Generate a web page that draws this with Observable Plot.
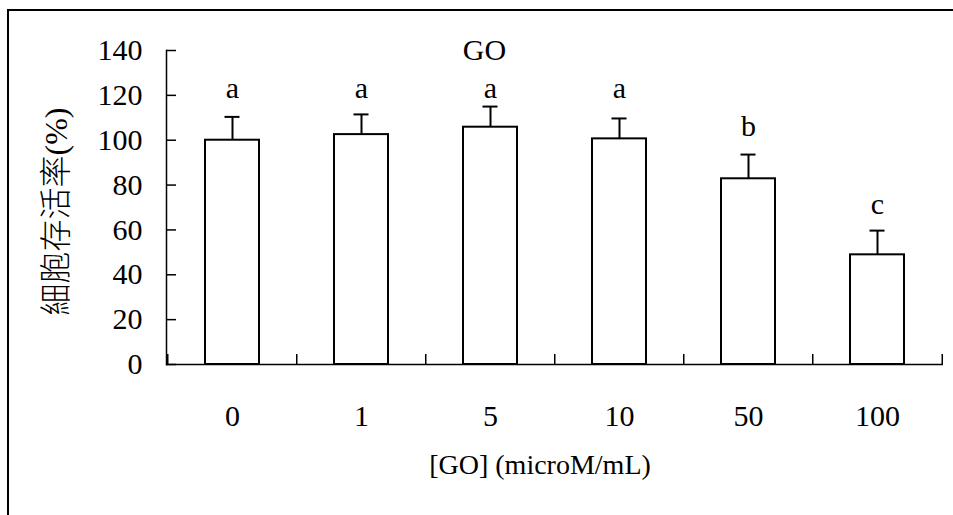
<!DOCTYPE html>
<html>
<head>
<meta charset="utf-8">
<script src="https://cdn.jsdelivr.net/npm/d3@7"></script>
<script src="https://cdn.jsdelivr.net/npm/@observablehq/plot@0.6"></script>
<style>
  html, body { margin: 0; padding: 0; background: #fff; overflow: hidden; }
  #wrap { position: relative; width: 953px; height: 515px; }
  #wrap svg, #wrap svg text { font-family: "Liberation Serif", "Noto Sans CJK TC", serif !important; }
  #border { position: absolute; left: 7px; top: 9px; width: 960px; height: 520px;
            border-left: 2.5px solid #000; border-top: 2.5px solid #000; pointer-events: none; }
</style>
</head>
<body>
<div id="wrap"><div id="border"></div></div>
<script>
const categories = ["0", "1", "5", "10", "50", "100"];
const values = [100, 102.5, 105.8, 100.6, 82.8, 48.9];
const errorTops = [110.4, 111.5, 115.0, 109.7, 93.6, 59.7];
const letters = ["a", "a", "a", "a", "b", "c"];
const letterY = [119, 119, 119, 119, 102, 67.3];
const yTicks = [0, 20, 40, 60, 80, 100, 120, 140];
const title = "GO";
const xLabel = "[GO] (microM/mL)";
const yLabel = "細胞存活率(%)";

const data = categories.map((c, i) => ({cat: c, v: values[i], e: errorTops[i], l: letters[i], ly: letterY[i]}));

const W = 953, H = 515, mL = 166, mR = 10, mT = 50, mB = 151;
const step = (W - mL - mR) / categories.length;
const serif = "Liberation Serif, Noto Sans CJK TC, serif";

const chart = Plot.plot({
  width: W, height: H,
  marginLeft: mL, marginRight: mR, marginTop: mT, marginBottom: mB,
  style: {fontFamily: serif, background: "#fff", color: "#000", overflow: "visible"},
  x: {type: "band", domain: categories, paddingInner: 0.583, paddingOuter: 0.2915, align: 0.5},
  y: {domain: [0, 140]},
  marks: [
    Plot.axisY(yTicks, {tickSize: 0, tickPadding: 24, fontSize: 30, fontFamily: serif, label: null}),
    Plot.axisX({tickSize: 0, tickPadding: 40, fontSize: 30, fontFamily: serif, label: null}),
    Plot.tickY(yTicks, {y: d => d, stroke: "#000", strokeWidth: 1.5, insetRight: W - mL - mR - 10}),
    Plot.tickX(categories, {x: d => d, dx: -step / 2, stroke: "#000", strokeWidth: 1.5, insetTop: H - mT - mB - 10}),
    Plot.tickX(categories.slice(-1), {x: d => d, dx: step / 2, stroke: "#000", strokeWidth: 1.5, insetTop: H - mT - mB - 10}),
    Plot.ruleX(data, {x: "cat", y1: "v", y2: "e", stroke: "#000", strokeWidth: 2}),
    Plot.tickY(data, {x: "cat", y: "e", stroke: "#000", strokeWidth: 2, insetLeft: 19.5, insetRight: 19.5}),
    Plot.barY(data, {x: "cat", y: "v", fill: "#fff", stroke: "#000", strokeWidth: 2}),
    Plot.frame({anchor: "left", stroke: "#000", strokeWidth: 1.5}),
    Plot.ruleY([0], {stroke: "#000", strokeWidth: 1.5}),
    Plot.text(data, {x: "cat", y: "ly", text: "l", lineAnchor: "bottom", fontSize: 30, fontFamily: serif, fill: "#000"}),
    Plot.text([title], {x: () => categories[2], y: () => 140, text: d => d, dx: -6, dy: 9, lineAnchor: "bottom", fontSize: 30, fontFamily: serif, fill: "#000"}),
    Plot.text([xLabel], {frameAnchor: "bottom", text: d => d, dx: -15, dy: 109, lineAnchor: "bottom", fontSize: 28, fontFamily: serif, fill: "#000"}),
    Plot.text([yLabel], {frameAnchor: "left", text: d => d, rotate: -90, dx: -110, dy: 4, textAnchor: "middle", lineAnchor: "middle", fontSize: 32, fontWeight: 300, fontFamily: serif, fill: "#000"})
  ]
});
document.getElementById("wrap").prepend(chart);
</script>
</body>
</html>
